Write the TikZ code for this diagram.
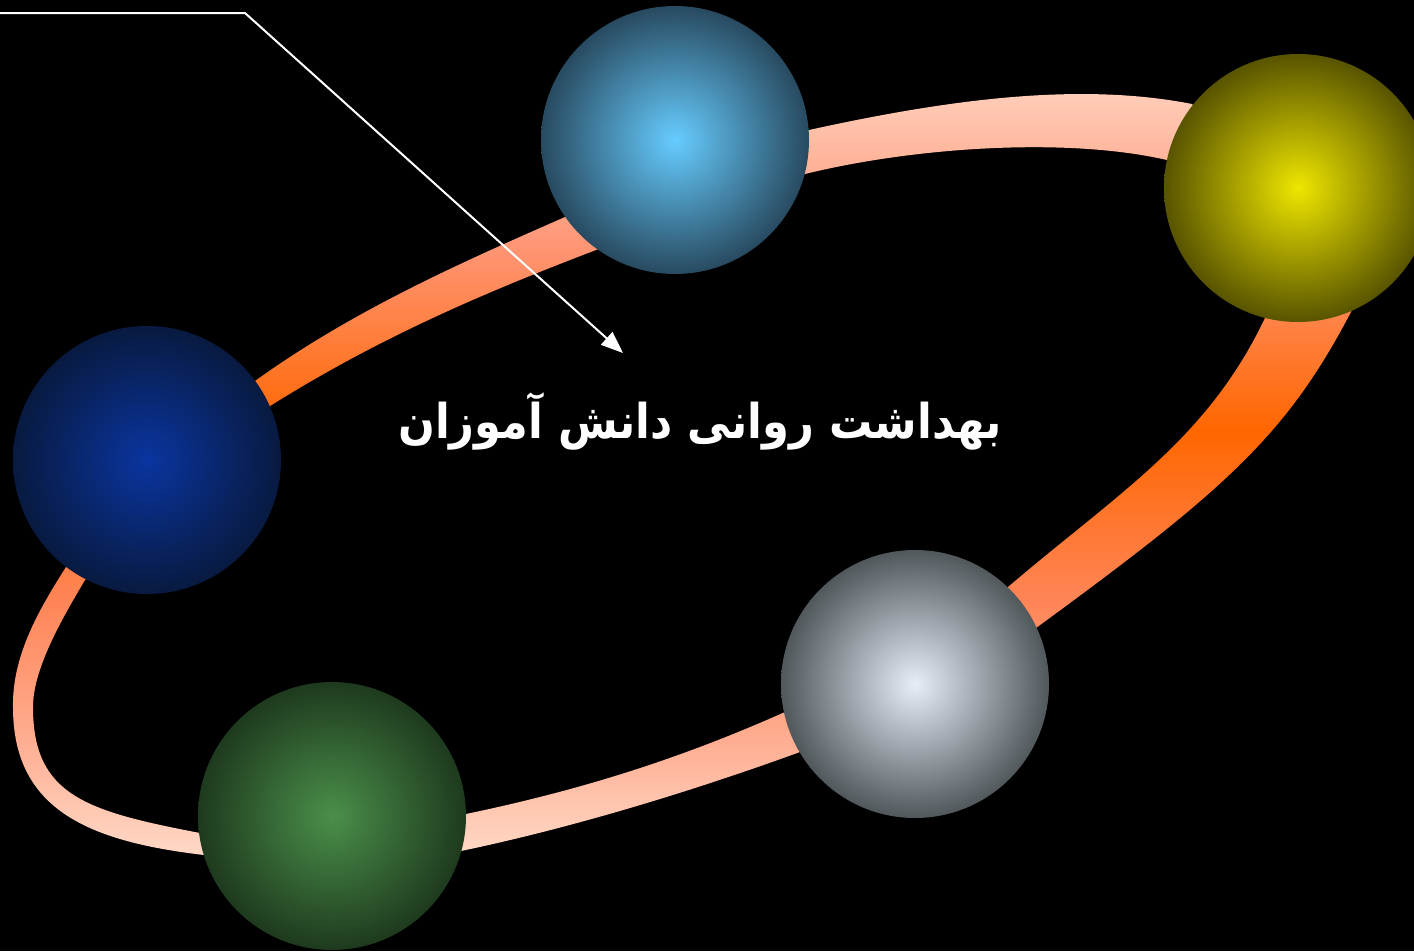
\documentclass[tikz,border=0pt]{standalone}
\usepackage{fontspec}
\newfontfamily\arabicfont[Script=Arabic]{DejaVu Sans}
\TeXXeTstate=1
\usetikzlibrary{arrows.meta}
\pgfdeclareverticalshading{ringshade}{100bp}{rgb(0bp)=(1,0.85,0.78); rgb(25bp)=(1,0.85,0.78); rgb(32.4bp)=(1,0.68,0.57); rgb(41.5bp)=(1,0.52,0.34); rgb(52.5bp)=(1,0.40,0); rgb(64.1bp)=(1,0.58,0.45); rgb(74.2bp)=(1,0.80,0.72); rgb(100bp)=(1,0.80,0.72)}
\definecolor{cyanin}{HTML}{66CCFF}
\definecolor{cyanout}{HTML}{284A60}
\definecolor{yelin}{HTML}{EEE600}
\definecolor{yelout}{HTML}{585400}
\definecolor{bluin}{HTML}{0A35A0}
\definecolor{bluout}{HTML}{081A40}
\definecolor{silin}{HTML}{E8EEF8}
\definecolor{silout}{HTML}{50585C}
\definecolor{grnin}{HTML}{4A8F4A}
\definecolor{grnout}{HTML}{1E3A1E}
\tikzset{
  sphere/.style={circle, minimum size=268pt, inner sep=0pt},
  pointer/.style={draw=white, line width=2pt, -{Triangle[length=22pt,width=17pt]}},
  titletext/.style={text=white, xscale=0.9, transform shape, font=\arabicfont\bfseries\fontsize{48}{56}\selectfont}
}
\begin{document}
\begin{tikzpicture}[x=1pt,y=-1pt]
\useasboundingbox (0,0) rectangle (1414,951);
\fill[black] (0,0) rectangle (1414,951);
% ring (outer and inner boundary; hidden joins lie behind the spheres)
\shade[shading=ringshade, even odd rule]
  (255,381) .. controls (355,309) and (465,261) .. (565,217) -- (809,130)
  .. controls (950,99) and (1080,82) .. (1192,104) -- (1352,310)
  .. controls (1287,435) and (1226,489) .. (1036,628) -- (800,752)
  .. controls (690,792) and (571,828) .. (461,851) -- (204,855)
  .. controls (84,841) and (13,807) .. (13,707)
  .. controls (12,655) and (40,608) .. (66,567) -- cycle
  (270,406) .. controls (380,337) and (486,292) .. (596,250) -- (805,174)
  .. controls (915,147) and (1067,137) .. (1167,160) -- (1265,318)
  .. controls (1207,440) and (1118,493) .. (1008,587) -- (785,712)
  .. controls (675,761) and (576,791) .. (466,814) -- (200,833)
  .. controls (85,811) and (33,795) .. (33,707)
  .. controls (33,667) and (65,614) .. (85,580) -- cycle;
% spheres
\node[sphere, inner color=cyanin, outer color=cyanout] (cyan) at (675,140) {};
\node[sphere, inner color=yelin, outer color=yelout] (yellow) at (1298,188) {};
\node[sphere, inner color=bluin, outer color=bluout] (blue) at (147,460) {};
\node[sphere, inner color=silin, outer color=silout] (silver) at (915,684) {};
\node[sphere, inner color=grnin, outer color=grnout] (green) at (332,816) {};
% pointer
\coordinate (p0) at (0,13);
\coordinate (p1) at (245,13);
\coordinate (p2) at (623,353);
\draw[pointer] (p0) -- (p1) -- (p2);
% title
\node[titletext] (title) at (700,421) {\beginR بهداشت روانی دانش آموزان\endR};
\end{tikzpicture}
\end{document}
